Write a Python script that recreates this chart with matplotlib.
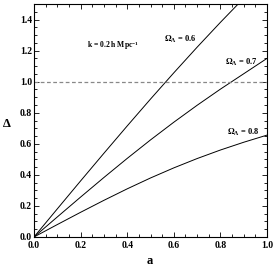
import matplotlib
matplotlib.use("Agg")
import matplotlib.pyplot as plt

a_vals = [0.0, 0.1, 0.2, 0.3, 0.4, 0.5, 0.6, 0.7, 0.8, 0.9, 1.0]
delta_06 = [0.0, 0.181, 0.361, 0.539, 0.715, 0.888, 1.057, 1.222, 1.382, 1.537, 1.687]
delta_07 = [0.0, 0.129, 0.257, 0.383, 0.506, 0.625, 0.739, 0.848, 0.952, 1.051, 1.150]
delta_08 = [0.0, 0.080, 0.159, 0.236, 0.310, 0.380, 0.445, 0.505, 0.560, 0.610, 0.656]
x_ticks = [0.0, 0.2, 0.4, 0.6, 0.8, 1.0]
y_ticks = [0.0, 0.2, 0.4, 0.6, 0.8, 1.0, 1.2, 1.4]
labels = [r"$\mathbf{\Omega_\Lambda}$ = 0.6", r"$\mathbf{\Omega_\Lambda}$ = 0.7", r"$\mathbf{\Omega_\Lambda}$ = 0.8"]
label_pos = [(0.56, 1.275), (0.82, 1.125), (0.83, 0.675)]
k_text = r"k = 0.2 h Mpc$^{\mathbf{-1}}$"

plt.rcParams['font.family'] = ['Liberation Serif', 'DejaVu Serif']
plt.rcParams['mathtext.fontset'] = 'custom'
plt.rcParams['mathtext.rm'] = 'Liberation Serif:bold'
plt.rcParams['mathtext.it'] = 'Liberation Serif:bold'
plt.rcParams['mathtext.bf'] = 'Liberation Serif:bold'

fig = plt.figure(figsize=(2.75, 2.68), dpi=100)
ax = fig.add_axes([0.1236, 0.1157, 0.8474, 0.8693])

for d in (delta_06, delta_07, delta_08):
    ax.plot(a_vals, d, color='black', lw=0.7)
ax.axhline(1.0, color='#888888', lw=0.9, ls=(0, (3, 2)))

for t, (x, y) in zip(labels, label_pos):
    ax.text(x, y, t, fontsize=6, fontweight='bold', ha='left', va='center')
ax.text(0.228, 1.23, k_text, fontsize=5.5, fontweight='bold', ha='left', va='center')

ax.set_xlim(0, 1)
ax.set_ylim(0, 1.5)
ax.set_xticks(x_ticks)
ax.set_yticks(y_ticks)
ax.set_xticks([i * 0.05 for i in range(21)], minor=True)
ax.set_yticks([i * 0.05 for i in range(31)], minor=True)
ax.set_xticklabels([f"{v:.1f}" for v in x_ticks], fontweight='bold')
ax.set_yticklabels([f"{v:.1f}" for v in y_ticks], fontweight='bold')
ax.tick_params(which='both', direction='in', top=True, right=True, width=0.6)
ax.tick_params(which='major', length=3.5, labelsize=7, pad=1.5)
ax.tick_params(axis='x', which='major', pad=3)
ax.tick_params(which='minor', length=2)
for s in ax.spines.values():
    s.set_linewidth(0.8)

ax.set_xlabel('a', fontsize=9, fontweight='bold', va='center', ha='center')
ax.set_ylabel('Δ', fontsize=9, fontweight='bold', rotation=0, va='center', ha='center')
ax.xaxis.set_label_coords(0.498, -0.103)
ax.yaxis.set_label_coords(-0.118, 0.485)

fig.savefig('out.png', dpi=100)
